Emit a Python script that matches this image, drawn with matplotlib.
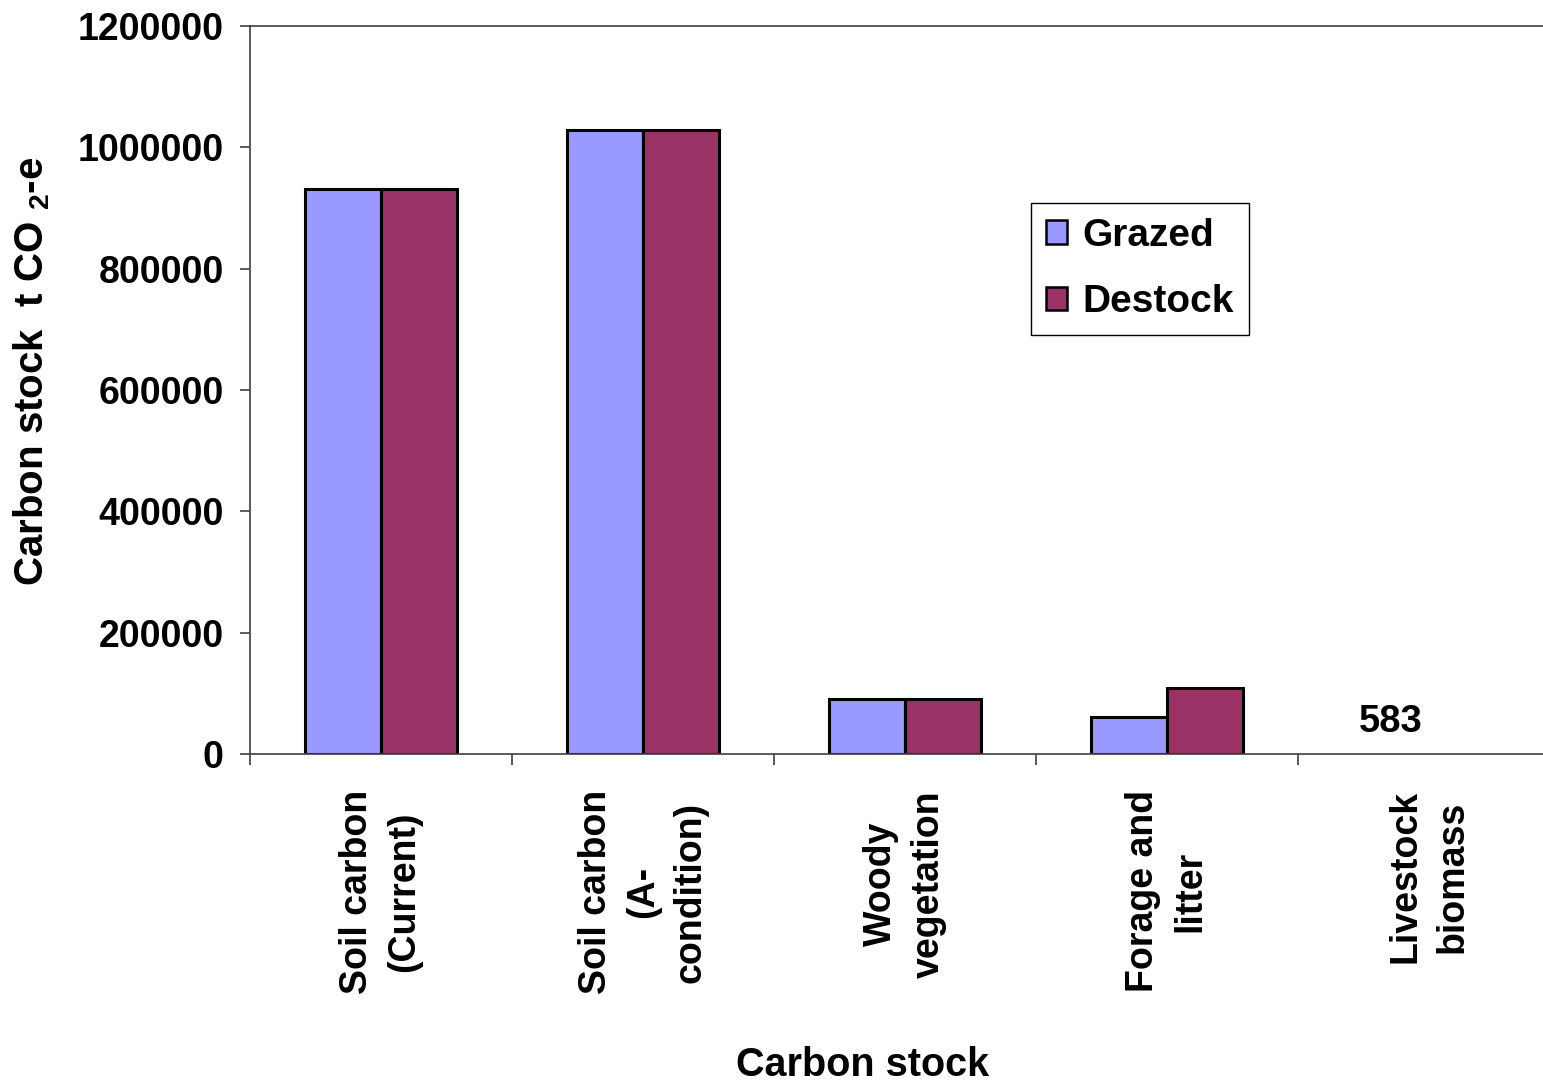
import numpy as np
import matplotlib
matplotlib.use('Agg')
import matplotlib.pyplot as plt

# carbon stock per pool, t CO2-e
categories = ['Soil carbon\n(Current)', 'Soil carbon\n(A-\ncondition)', 'Woody\nvegetation',
              'Forage and\nlitter', 'Livestock\nbiomass']
grazed = [931000, 1028500, 90600, 61500, 583]
destock = [931000, 1028500, 90600, 108300, 0]
series_names = ['Grazed', 'Destock']
yticks = [0, 200000, 400000, 600000, 800000, 1000000, 1200000]

plt.rcParams['font.family'] = ['Liberation Sans', 'DejaVu Sans']
plt.rcParams['font.weight'] = 'bold'
plt.rcParams['mathtext.fontset'] = 'custom'
plt.rcParams['mathtext.rm'] = 'Liberation Sans:bold'
plt.rcParams['mathtext.it'] = 'Liberation Sans:bold'
plt.rcParams['mathtext.bf'] = 'Liberation Sans:bold'

fs = 27.5
line_col = '#404040'

fig = plt.figure(figsize=(15.43, 10.82), dpi=100)
ax = fig.add_axes([250/1543, 1 - 754/1082, 1310/1543, 728/1082])

x = np.arange(len(categories)) + 0.5
w = 0.29
b1 = ax.bar(x - w/2, grazed, w, color='#9999FF', edgecolor='black', linewidth=2.2, label=series_names[0])
b2 = ax.bar(x + w/2, destock, w, color='#993366', edgecolor='black', linewidth=2.2, label=series_names[1])
# bars too small to see get no outline
for p in list(b1) + list(b2):
    if p.get_height() < 5000:
        p.set_linewidth(0)

# only the livestock value is written on the chart
ax.annotate(str(grazed[4]), (x[4] - w/2, grazed[4]), xytext=(0, 10), textcoords='offset points',
            ha='center', va='bottom', fontsize=fs, fontweight='bold')

ax.set_xlim(0, 5)
ax.set_ylim(0, 1200000)
ax.set_yticks(yticks)
ax.set_yticklabels([str(t) for t in yticks], fontsize=27, fontweight='bold')
ax.tick_params(axis='y', length=7, width=1.2, color=line_col, pad=12)

ax.set_xticks(np.arange(0, 6))
ax.set_xticklabels([])
ax.set_xticks(x, minor=True)
ax.set_xticklabels(categories, minor=True, rotation=90, fontsize=27, fontweight='bold',
                   multialignment='center', linespacing=1.4)
ax.tick_params(axis='x', which='major', length=8, width=1.2, color=line_col)
ax.tick_params(axis='x', which='minor', length=0, pad=26)

ax.spines['right'].set_visible(False)
for s in ['left', 'bottom', 'top']:
    ax.spines[s].set_color(line_col)
    ax.spines[s].set_linewidth(1.2)

ax.set_ylabel(r'Carbon stock  t CO $\mathregular{_2}$-e', fontsize=29, fontweight='bold')
ax.yaxis.set_label_coords(-0.151, 0.525)
fig.text(863/1543, 1 - 1065/1082, 'Carbon stock', ha='center', va='center', fontsize=28.5, fontweight='bold')

leg = ax.legend(loc='upper left', bbox_to_anchor=(1031/1543, 1 - 203/1082), bbox_transform=fig.transFigure,
                borderaxespad=0, fancybox=False, framealpha=1, edgecolor='black', prop={'size': 28, 'weight': 'bold'},
                handlelength=0.55, handleheight=0.55, handletextpad=0.4, labelspacing=0.78, borderpad=0.38)
leg.get_frame().set_linewidth(1.0)
for h in leg.legend_handles:
    h.set_linewidth(1.8)

fig.savefig('out.png', dpi=100)
